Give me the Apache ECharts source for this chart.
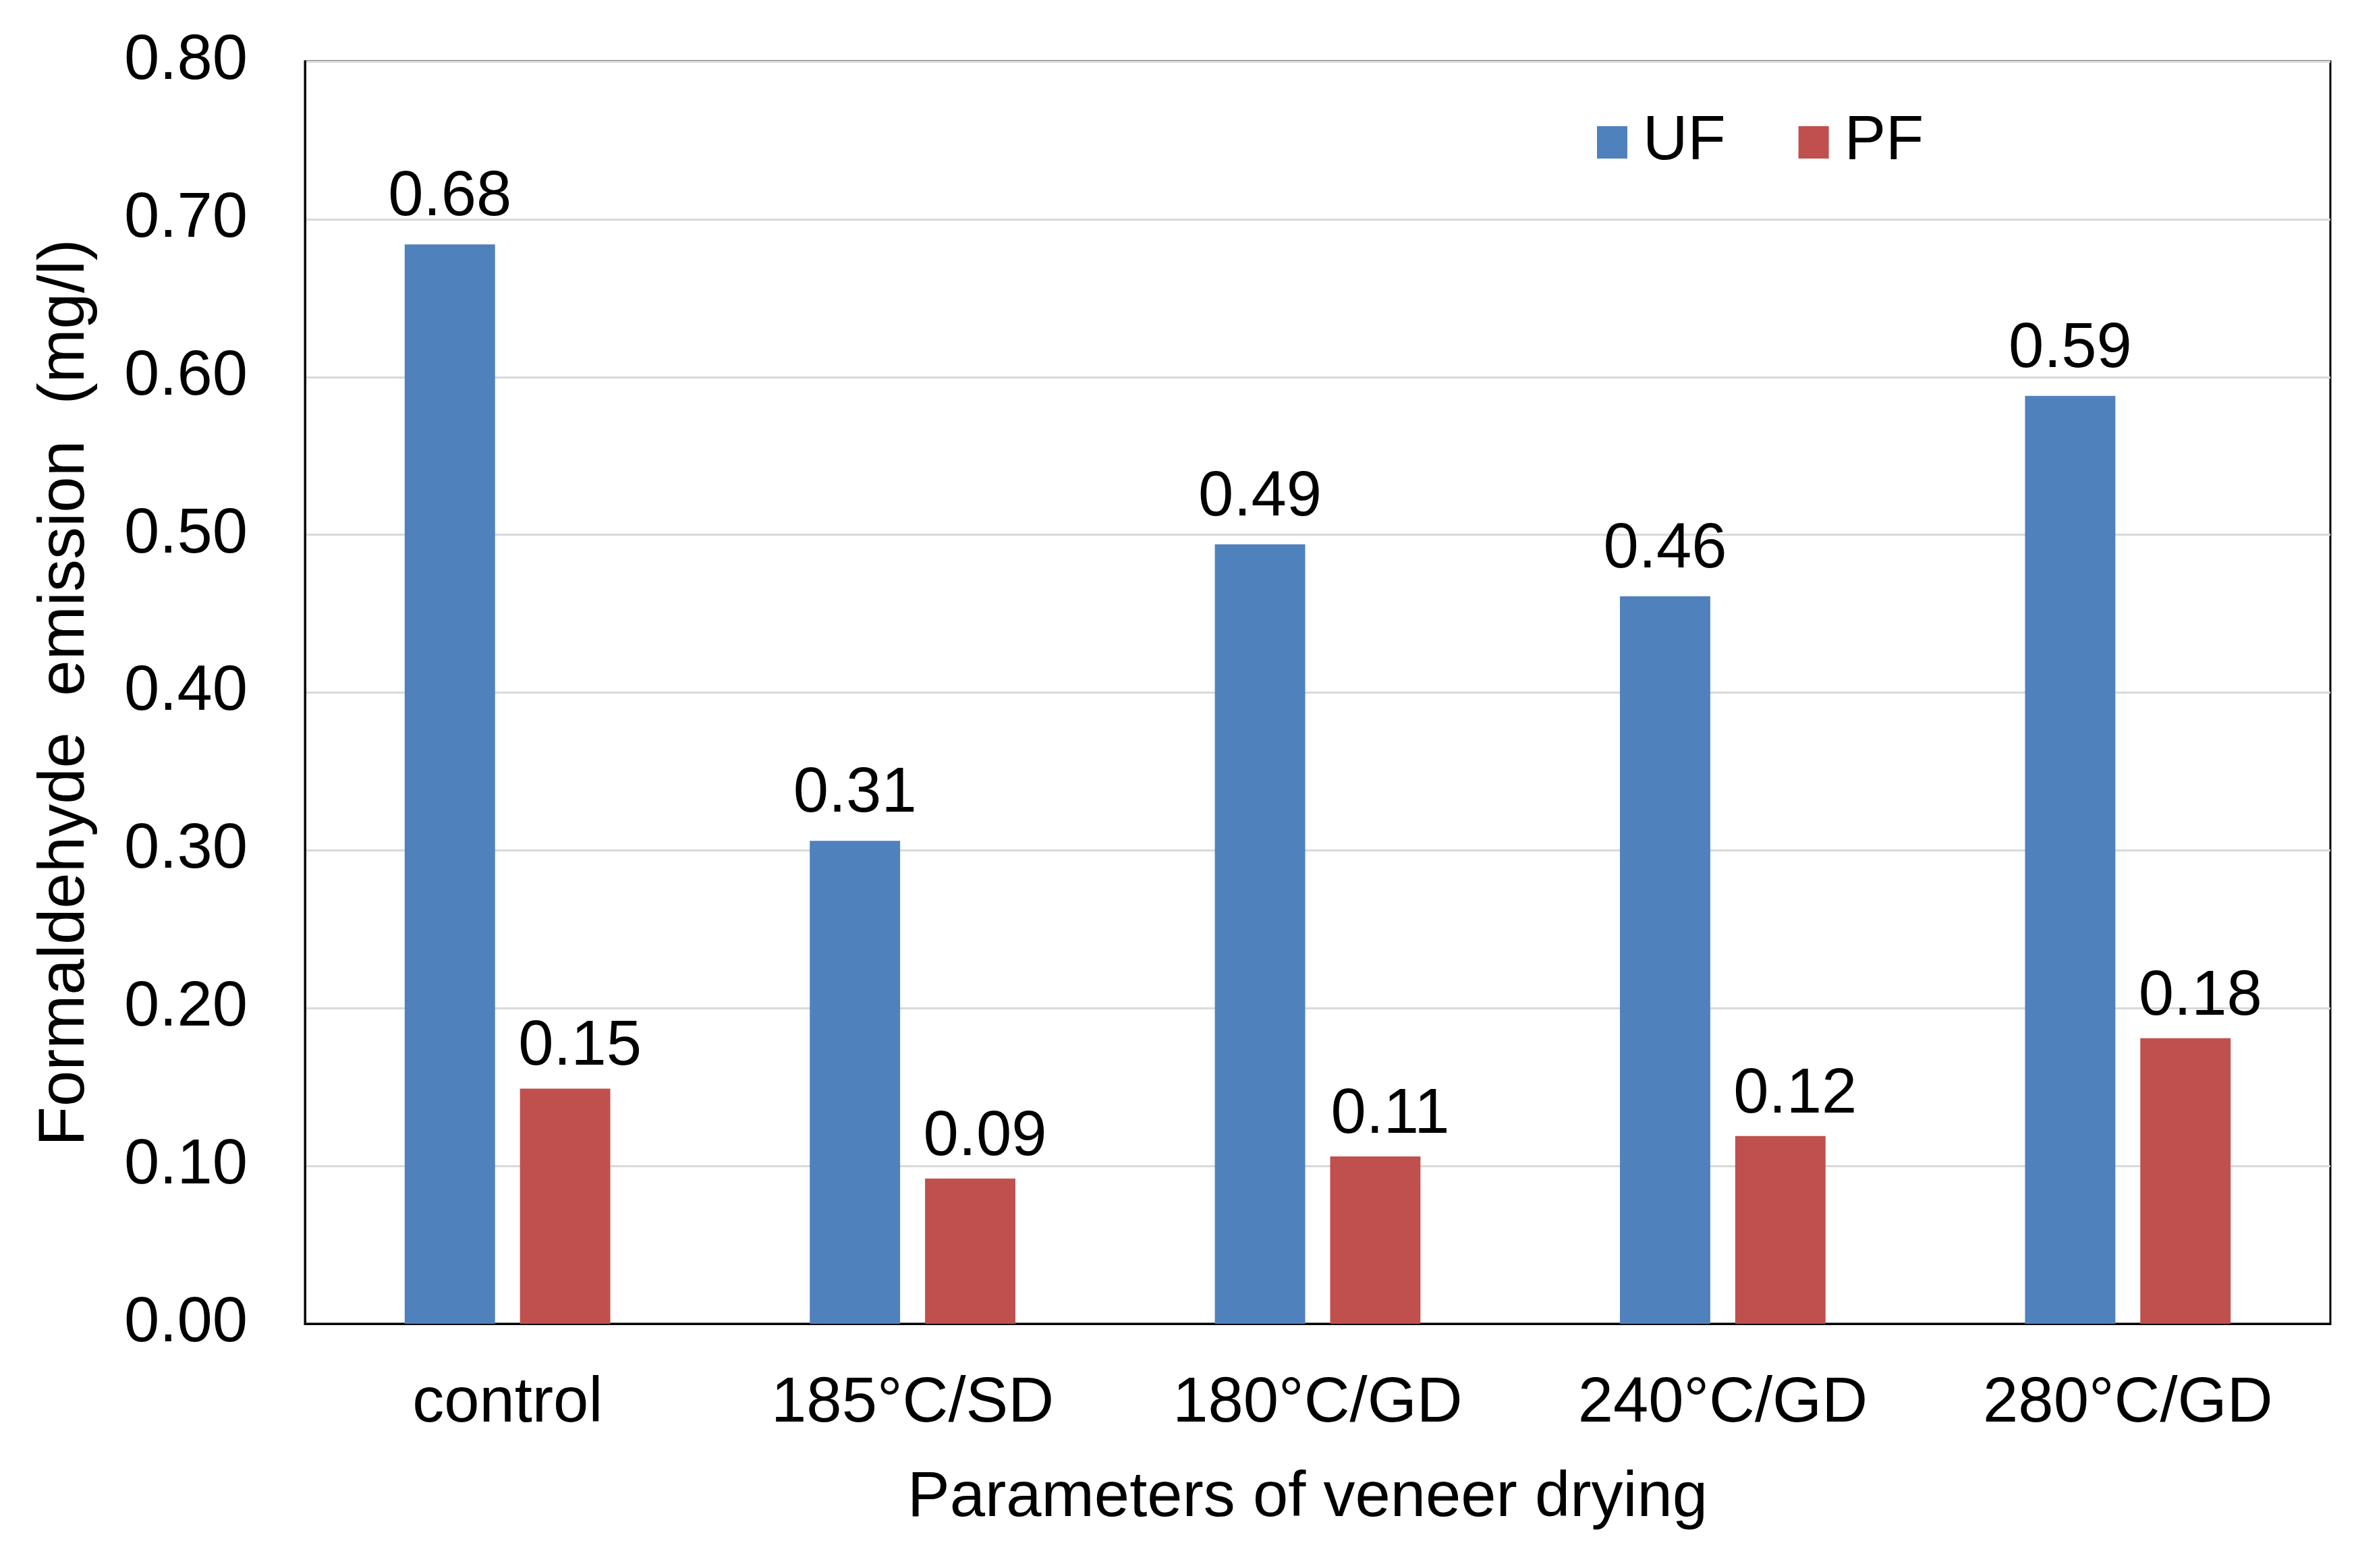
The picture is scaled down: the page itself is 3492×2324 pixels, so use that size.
<!DOCTYPE html>
<html>
<head>
<meta charset="utf-8">
<script src="https://cdn.jsdelivr.net/npm/echarts@6/dist/echarts.min.js"></script>
<style>
html,body{margin:0;padding:0;background:#fff;}
#chart{width:3492px;height:2324px;}
</style>
</head>
<body>
<div id="chart"></div>
<script>
const categories = ['control', '185°C/SD', '180°C/GD', '240°C/GD', '280°C/GD'];
const seriesNames = ['UF', 'PF'];
const ufValues = [0.684, 0.306, 0.494, 0.461, 0.588];
const pfValues = [0.149, 0.092, 0.106, 0.119, 0.181];
const yTicks = { min: 0, max: 0.8, interval: 0.1 };
const xTitle = 'Parameters of veneer drying';
const yTitle = 'Formaldehyde  emission  (mg/l)';

const FONT = '"Liberation Sans", Arial, sans-serif';
const chart = echarts.init(document.getElementById('chart'), null, { renderer: 'canvas' });

const baseLabel = {
  show: true,
  position: 'top',
  fontSize: 94,
  fontFamily: FONT,
  color: '#000',
  formatter: p => p.value.toFixed(2)
};

chart.setOption({
  backgroundColor: '#fff',
  animation: false,
  grid: {
    left: 452, top: 91, right: 38, bottom: 362,
    show: true, borderColor: '#000', borderWidth: 3, backgroundColor: 'transparent'
  },
  legend: {
    left: 2362, top: 160,
    itemWidth: 45, itemHeight: 48, itemGap: 108,
    icon: 'rect',
    textStyle: { fontSize: 92, fontFamily: FONT, color: '#000', padding: [0, 0, 0, 18] },
    data: seriesNames
  },
  xAxis: {
    type: 'category',
    data: categories,
    name: xTitle,
    nameLocation: 'middle',
    nameGap: 212,
    nameTextStyle: { fontSize: 94, fontFamily: FONT, color: '#000', padding: [0, 30, 0, 0] },
    axisLine: { show: true, lineStyle: { color: '#000', width: 3 } },
    axisTick: { show: false },
    axisLabel: { fontSize: 94, fontFamily: FONT, color: '#000', margin: 72 }
  },
  yAxis: {
    type: 'value',
    min: yTicks.min, max: yTicks.max, interval: yTicks.interval,
    name: yTitle,
    nameLocation: 'middle',
    nameGap: 306,
    nameTextStyle: { fontSize: 96, fontFamily: FONT, color: '#000' },
    axisLine: { show: true, lineStyle: { color: '#000', width: 3 } },
    axisTick: { show: false },
    axisLabel: { fontSize: 94, fontFamily: FONT, color: '#000', margin: 85, formatter: v => v.toFixed(2) },
    splitLine: { show: true, lineStyle: { color: '#d9d9d9', width: 3 } }
  },
  series: [
    { name: seriesNames[0], type: 'bar', data: ufValues, barWidth: '22.3%', barGap: '27.6%',
      itemStyle: { color: '#4F81BD' }, label: Object.assign({}, baseLabel, { distance: 22 }) },
    { name: seriesNames[1], type: 'bar', data: pfValues, barWidth: '22.3%', barGap: '27.6%',
      itemStyle: { color: '#C0504D' }, label: Object.assign({}, baseLabel, { distance: 14, offset: [22, 0] }) }
  ]
});
</script>
</body>
</html>
